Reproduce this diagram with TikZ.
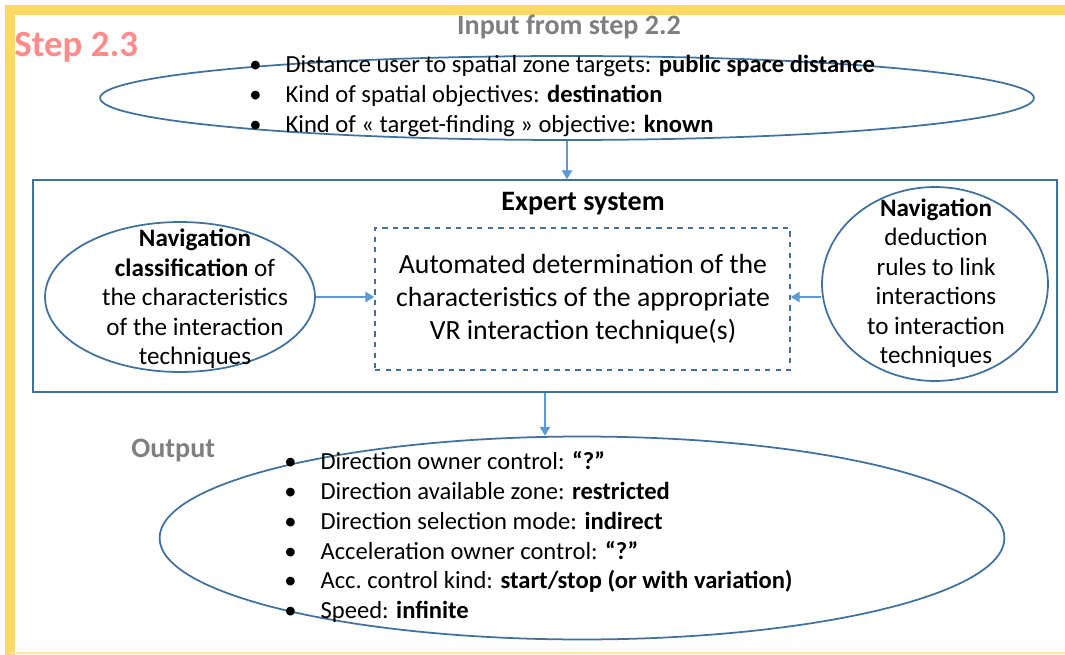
\documentclass[tikz,border=0pt]{standalone}
\usepackage{fontspec}
\setmainfont{Carlito}
\usetikzlibrary{arrows.meta, positioning, shapes.geometric}
\definecolor{sframe}{HTML}{FFD966}
\definecolor{sstep}{HTML}{FF8B8B}
\definecolor{sgray}{HTML}{7F7F7F}
\definecolor{sline}{HTML}{41719C}
\definecolor{sarrow}{HTML}{5B9BD5}
\tikzset{
  oval/.style={ellipse, draw=sline, line width=1pt, inner sep=0pt},
  sysbox/.style={draw=sline, line width=1pt, inner sep=0pt},
  dbox/.style={draw=sline, line width=1pt, dashed, inner sep=0pt},
  arr/.style={-{Triangle[length=5pt,width=6pt]}, sarrow, line width=0.7pt},
  head/.style={font=\fontsize{16}{19}\selectfont\bfseries, sgray},
  blist/.style={align=left, inner sep=0pt, font=\fontsize{14}{17}\selectfont},
  otext/.style={align=center, inner sep=0pt, font=\fontsize{14.3}{16.8}\selectfont},
}
\newcommand{\bul}{\textbullet\hspace{0.48cm}}

\begin{document}
\begin{tikzpicture}[x=0.02cm, y=-0.02cm]
  \useasboundingbox (0,0) rectangle (1065,655);

  %% Frame (top and left edges, faint bottom)
  \draw[sframe, line width=6pt] (1065,10) -- (10,10) -- (10,655);
  \draw[sframe!60, line width=1.5pt] (10,653) -- (1065,653);
  \node[font=\fontsize{21}{24}\selectfont\bfseries, sstep, anchor=west, inner sep=0pt] (step) at (14,47) {Step 2.3};

  %% Input ellipse
  \node[head] (inhead) at (569,27) {Input from step 2.2};
  \node[oval, minimum width=18.68cm, minimum height=1.68cm] (input) at (567,98) {};
  \node[blist, anchor=west] (inlist) at (249,96) {%
    \bul Distance user to spatial zone targets: \textbf{public space distance}\\
    \bul Kind of spatial objectives: \textbf{destination}\\
    \bul Kind of « target-finding » objective: \textbf{known}};

  %% Expert system
  \node[sysbox, minimum width=20.48cm, minimum height=4.24cm] (expert) at (545,286) {};
  \node[font=\fontsize{16}{19}\selectfont\bfseries, inner sep=0pt] (exptitle) at (583,204) {Expert system};
  \node[dbox, minimum width=8.3cm, minimum height=2.84cm] (auto) at (582.5,299) {};
  \node[align=center, inner sep=0pt, font=\fontsize{15.8}{18.8}\selectfont] (autotext) at (583,299) {%
    Automated determination of the\\
    characteristics of the appropriate\\
    VR interaction technique(s)};

  % Left: classification
  \node[oval, minimum width=5.4cm, minimum height=3.0cm] (classif) at (180,297) {};
  \node[otext] (classiftext) at (195,299) {%
    \textbf{Navigation}\\
    \textbf{classification} of\\
    the characteristics\\
    of the interaction\\
    techniques};

  % Right: deduction rules
  \node[oval, minimum width=4.52cm, minimum height=3.88cm] (rules) at (935,284) {};
  \node[otext] (rulestext) at (936,283) {%
    \textbf{Navigation}\\
    deduction\\
    rules to link\\
    interactions\\
    to interaction\\
    techniques};

  %% Output ellipse
  \node[head, anchor=west, inner sep=0pt] (outhead) at (131,450) {Output};
  \node[oval, minimum width=16.9cm, minimum height=4.06cm] (output) at (582,538) {};
  \node[blist, anchor=west] (outlist) at (284,537) {%
    \bul Direction owner control: \textbf{“?”}\\
    \bul Direction available zone: \textbf{restricted}\\
    \bul Direction selection mode: \textbf{indirect}\\
    \bul Acceleration owner control: \textbf{“?”}\\
    \bul Acc.\ control kind: \textbf{start/stop (or with variation)}\\
    \bul Speed: \textbf{infinite}};

  %% Connectors
  \draw[arr] (input.south) -- (input.south |- expert.north);
  \draw[arr] (classif.east) -- (auto.west |- classif.east);
  \draw[arr] (rules.west |- classif.east) -- (auto.east |- classif.east);
  \draw[arr] (expert.south) -- (expert.south |- output.north);
\end{tikzpicture}
\end{document}
